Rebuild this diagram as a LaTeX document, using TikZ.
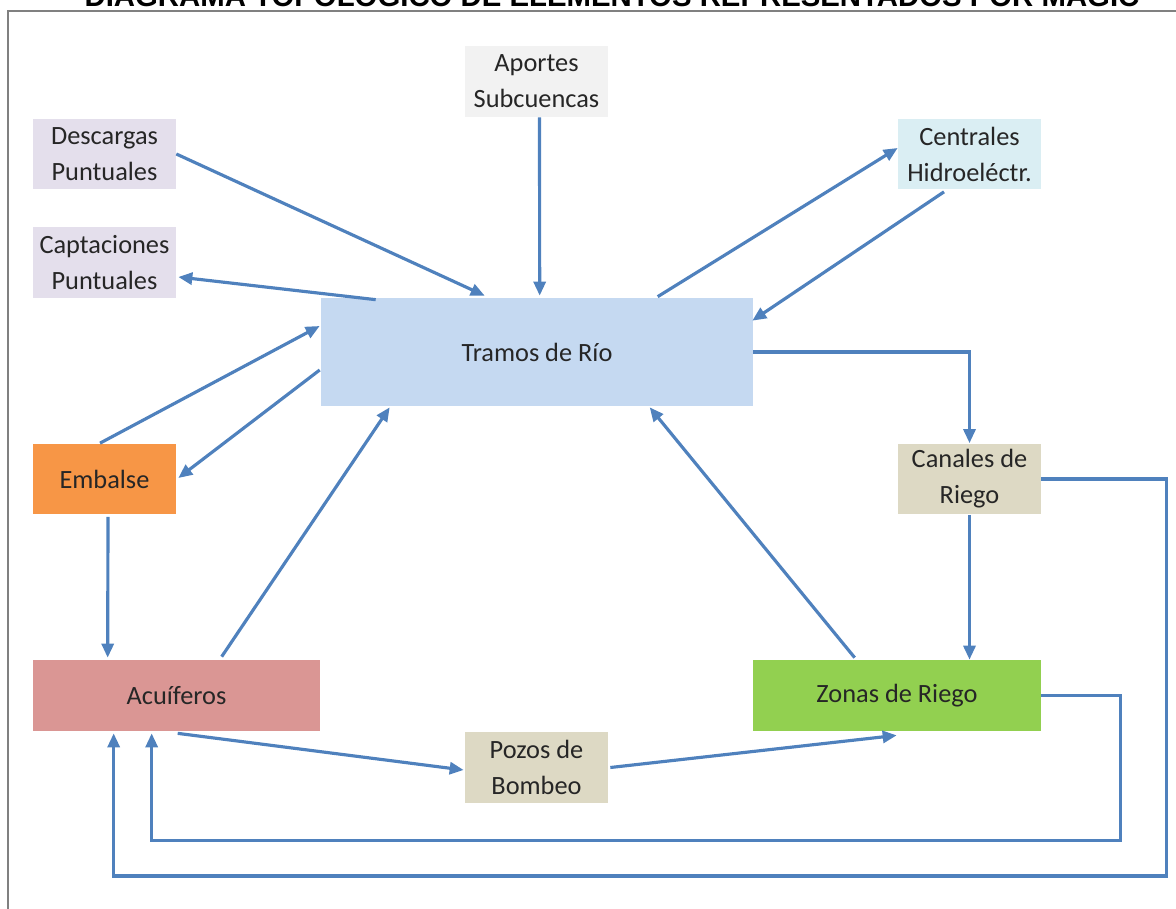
\documentclass[tikz,border=0pt]{standalone}
\usepackage{fontspec}
\setmainfont{Carlito}
\newfontfamily\titlefont{Liberation Sans}
\usetikzlibrary{arrows.meta,positioning,calc}
\usepackage{xcolor}
\definecolor{flowblue}{HTML}{4F81BD}
\definecolor{aportes}{HTML}{F2F2F2}
\definecolor{lavender}{HTML}{E4DFEC}
\definecolor{hydro}{HTML}{DAEEF3}
\definecolor{river}{HTML}{C5D9F1}
\definecolor{reservoir}{HTML}{F79646}
\definecolor{sand}{HTML}{DDD9C4}
\definecolor{aquifer}{HTML}{DA9694}
\definecolor{irrig}{HTML}{92D050}

\begin{document}
\begin{tikzpicture}[x=0.02cm, y=-0.02cm,
    box/.style={rectangle, inner sep=0pt, align=center, text=black!85,
        font=\fontsize{15}{20.5}\selectfont},
    small/.style={box, minimum width=2.86cm, minimum height=1.42cm},
    flow/.style={draw=flowblue, line width=1.8pt,
        -{Triangle[length=0.28cm, width=0.24cm]}}]
    \useasboundingbox (0,0) rectangle (1176,909);

    % Frame and title
    \draw[gray, line width=1.2pt] (8,930) -- (8,11) -- (1200,11);
    \node[anchor=base, inner sep=0pt, font=\titlefont\bfseries\fontsize{16.7}{19}\selectfont] (title) at (612,7)
        {DIAGRAMA TOPOLÓGICO DE ELEMENTOS REPRESENTADOS POR MAGIC};

    % Elements
    \node[small, fill=aportes] (aport) at (536.5,81.5) {Aportes\\Subcuencas};
    \node[small, fill=lavender] (desc) at (104.5,154) {Descargas\\Puntuales};
    \node[small, fill=lavender] (capt) at (104.5,262.5) {Captaciones\\Puntuales};
    \node[small, fill=hydro] (cent) at (969.5,154) {Centrales\\Hidroeléctr.};
    \node[box, fill=river, minimum width=8.64cm, minimum height=2.16cm] (tramo) at (537,352) {Tramos de Río};
    \node[small, fill=reservoir] (emb) at (104.5,479) {Embalse};
    \node[small, fill=sand] (canal) at (969.5,479) {Canales de\\Riego};
    \node[box, fill=aquifer, minimum width=5.74cm, minimum height=1.42cm] (acuif) at (176.5,695.5) {Acuíferos};
    \node[box, fill=irrig, minimum width=5.76cm, minimum height=1.42cm] (zonas) at (897,695.5) {Zonas de Riego};
    \node[small, fill=sand] (pozos) at (536.5,767.5) {Pozos de\\Bombeo};

    % Flows around the river
    \draw[flow] (desc.east) -- ($(tramo.north west)+(164,-2)$);
    \draw[flow] ($(aport.south)+(3,0)$) -- ($(tramo.north west)+(219,-2)$);
    \draw[flow] ($(tramo.north west)+(55,2)$) -- ($(capt.east)+(2,14.5)$);
    \draw[flow] ($(tramo.north west)+(337,-1)$) -- ($(cent.west)+(0,-6)$);
    \draw[flow] ($(cent.south)+(-25.5,2)$) -- ($(tramo.north east)+(-1,23)$);
    \draw[flow] ($(emb.north)+(-4.5,0)$) -- ($(tramo.west)+(-1,-26)$);
    \draw[flow] ($(tramo.west)+(-1,18)$) -- ($(emb.east)+(2,-1)$);
    \draw[flow] ($(emb.south)+(3.5,2)$) -- ($(acuif.north west)+(75,-2)$);
    \draw[flow] ($(acuif.north west)+(189,-3)$) -- ($(tramo.south west)+(69,1)$);
    \draw[flow] ($(zonas.north west)+(102,-2)$) -- ($(tramo.south west)+(329,1)$);

    % Irrigation
    \draw[flow] (tramo.east) -| (canal.north);
    \draw[flow] (canal.south) -- (canal.south |- zonas.north);
    \draw[flow] (canal.east) -- ++(125,0) -- ++(0,397) -| ($(acuif.south west)+(81,2)$);
    \draw[flow] (zonas.east) -- ++(79,0) -- ++(0,145) -| ($(acuif.south west)+(119,2)$);

    % Pumping
    \draw[flow] ($(acuif.south west)+(145,2)$) -- ($(pozos.west)+(-1,2.5)$);
    \draw[flow] ($(pozos.east)+(2,0)$) -- ($(zonas.south west)+(144,4)$);
\end{tikzpicture}
\end{document}
